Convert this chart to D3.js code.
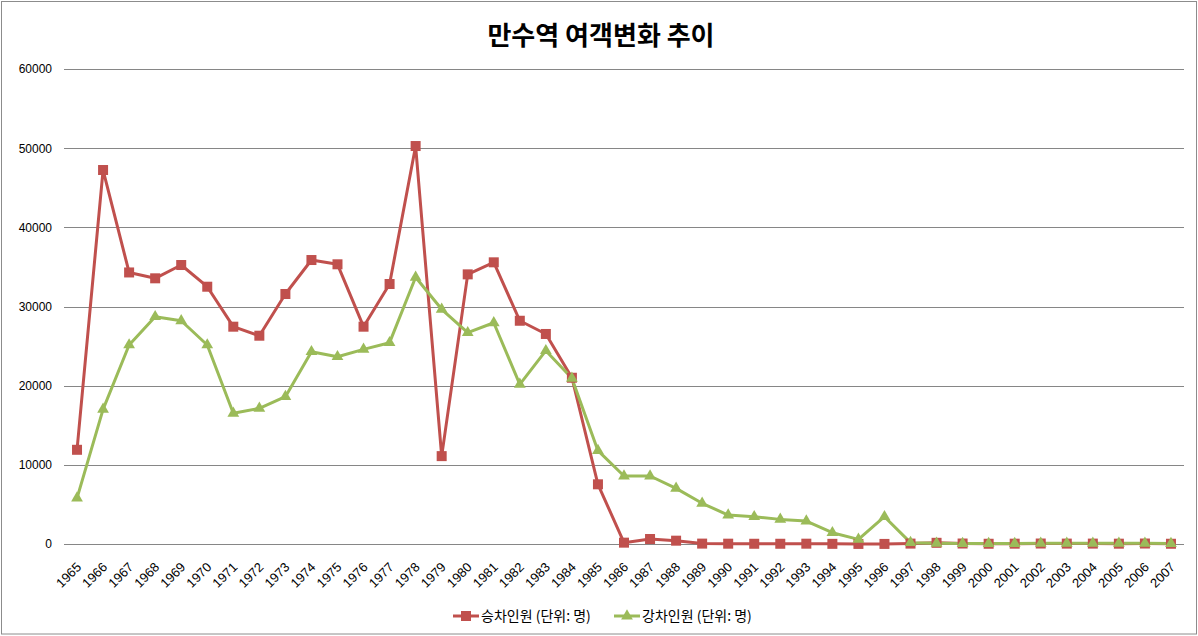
<!DOCTYPE html>
<html>
<head>
<meta charset="utf-8">
<script src="https://cdn.jsdelivr.net/npm/d3@7"></script>
<style>
  body { margin: 0; background: #fff; }
  svg { display: block; }
</style>
</head>
<body>
<div id="chart"></div>
<script>
const years = ["1965","1966","1967","1968","1969","1970","1971","1972","1973","1974",
  "1975","1976","1977","1978","1979","1980","1981","1982","1983","1984","1985","1986",
  "1987","1988","1989","1990","1991","1992","1993","1994","1995","1996","1997","1998",
  "1999","2000","2001","2002","2003","2004","2005","2006","2007"];

const boarding = [11900, 47240, 34300, 33560, 35240, 32500, 27450, 26310, 31580, 35870,
  35330, 27450, 32840, 50270, 11100, 34060, 35580, 28200, 26530, 21000, 7540, 170,
  630, 420, 50, 40, 30, 30, 40, 20, 10, 10, 50, 150,
  60, 30, 40, 60, 50, 50, 40, 60, 30];

const alighting = [5800, 17010, 25140, 28710, 28200, 25140, 16510, 17140, 18610, 24290,
  23660, 24590, 25430, 33690, 29650, 26690, 27950, 20170, 24420, 20930, 11790, 8590,
  8590, 7030, 5140, 3660, 3450, 3110, 2900, 1430, 590, 3450, 170, 80,
  60, 50, 50, 80, 80, 80, 80, 80, 50];

const yTicks = [0, 10000, 20000, 30000, 40000, 50000, 60000];

const seriesNames = ["승차인원 (단위: 명)", "강차인원 (단위: 명)"];
const seriesColors = ["#C0504D", "#9BBB59"];

const W = 1198, H = 636;
const margin = {top: 69, right: 14, bottom: 92, left: 64};
const width = W - margin.left - margin.right;
const height = H - margin.top - margin.bottom;

const svg = d3.select("#chart").append("svg")
  .attr("width", W)
  .attr("height", H);

// outer frame
svg.append("rect")
  .attr("x", 1.5).attr("y", 1.5)
  .attr("width", W - 3).attr("height", H - 3.5)
  .attr("fill", "none").attr("stroke", "#8c8c8c").attr("stroke-width", 1);

svg.append("text")
  .attr("x", 601).attr("y", 45)
  .attr("text-anchor", "middle")
  .style("font-family", "'Noto Sans CJK KR', sans-serif")
  .style("font-size", "26px")
  .style("font-weight", "bold")
  .text("만수역 여객변화 추이");

const g = svg.append("g")
  .attr("transform", `translate(${margin.left},${margin.top})`);

const xScale = d3.scaleBand().domain(years).range([0, width]);
const yScale = d3.scaleLinear().domain([0, 60000]).range([height, 0]);

// gridlines
g.append("g")
  .selectAll("line")
  .data(yTicks)
  .join("line")
  .attr("x1", 0).attr("x2", width)
  .attr("y1", d => Math.round(yScale(d)) + 0.5)
  .attr("y2", d => Math.round(yScale(d)) + 0.5)
  .attr("stroke", "#868686");

const axisFont = "'Liberation Sans', Arial, sans-serif";

const yAxis = d3.axisLeft(yScale).tickValues(yTicks).tickFormat(d3.format("d"))
  .tickSize(0).tickPadding(12);
g.append("g").call(yAxis)
  .attr("font-family", axisFont).attr("font-size", 12)
  .call(s => s.select(".domain").remove())
  .selectAll("text").attr("fill", "#000");

const xAxis = d3.axisBottom(xScale).tickSize(0).tickPadding(0);
g.append("g")
  .attr("transform", `translate(0,${height})`)
  .call(xAxis)
  .attr("font-family", axisFont).attr("font-size", 13)
  .call(s => s.select(".domain").remove())
  .selectAll("text")
  .attr("fill", "#000")
  .attr("text-anchor", "end")
  .attr("dy", null)
  .attr("transform", "translate(5,24) rotate(-45)");

const line = d3.line()
  .x((d, i) => xScale(years[i]) + xScale.bandwidth() / 2)
  .y(d => yScale(d));

const seriesData = [boarding, alighting];

seriesData.forEach((vals, k) => {
  g.append("path")
    .datum(vals)
    .attr("fill", "none")
    .attr("stroke", seriesColors[k])
    .attr("stroke-width", 3)
    .attr("stroke-linejoin", "round")
    .attr("d", line);
});

// square markers
g.append("g")
  .selectAll("rect")
  .data(boarding)
  .join("rect")
  .attr("x", (d, i) => xScale(years[i]) + xScale.bandwidth() / 2 - 5)
  .attr("y", d => yScale(d) - 5)
  .attr("width", 10).attr("height", 10)
  .attr("fill", seriesColors[0]);

// triangle markers
const tri = d3.symbol().type(d3.symbolTriangle).size(60);
g.append("g")
  .selectAll("path")
  .data(alighting)
  .join("path")
  .attr("d", tri)
  .attr("transform", (d, i) => `translate(${xScale(years[i]) + xScale.bandwidth() / 2},${yScale(d)})`)
  .attr("fill", seriesColors[1]);

// legend
const legendX = [453, 614];
const legend = svg.append("g").attr("transform", "translate(0,616)");
seriesNames.forEach((name, k) => {
  const lg = legend.append("g").attr("transform", `translate(${legendX[k]},0)`);
  lg.append("line")
    .attr("x1", 0).attr("x2", 26).attr("y1", 0).attr("y2", 0)
    .attr("stroke", seriesColors[k]).attr("stroke-width", 3);
  if (k === 0) {
    lg.append("rect").attr("x", 8).attr("y", -5).attr("width", 10).attr("height", 10)
      .attr("fill", seriesColors[k]);
  } else {
    lg.append("path").attr("d", tri).attr("transform", "translate(13,0)")
      .attr("fill", seriesColors[k]);
  }
  lg.append("text")
    .attr("x", 28).attr("y", 5)
    .style("font-family", "'Noto Sans CJK KR', sans-serif")
    .style("font-size", "14px")
    .text(name);
});
</script>
</body>
</html>
